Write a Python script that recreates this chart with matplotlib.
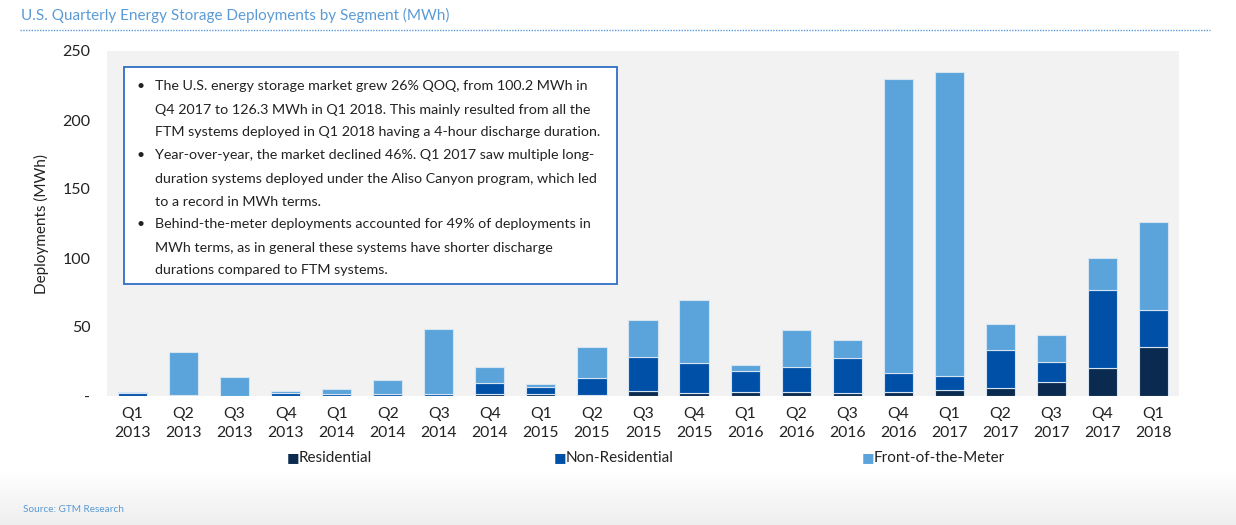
import matplotlib
matplotlib.use("Agg")
import matplotlib.pyplot as plt
import numpy as np
from matplotlib.patches import Rectangle
from matplotlib.lines import Line2D

plt.rcParams['font.family'] = ['Lato', 'DejaVu Sans']

quarters = ["Q1", "Q2", "Q3", "Q4", "Q1", "Q2", "Q3", "Q4", "Q1", "Q2", "Q3", "Q4",
            "Q1", "Q2", "Q3", "Q4", "Q1", "Q2", "Q3", "Q4", "Q1"]
years = ["2013", "2013", "2013", "2013", "2014", "2014", "2014", "2014", "2015", "2015",
         "2015", "2015", "2016", "2016", "2016", "2016", "2017", "2017", "2017", "2017", "2018"]
residential = [0.2, 0.0, 0.0, 0.3, 0.3, 0.3, 0.3, 1.4, 1.2, 1.0, 3.4, 2.0,
               2.7, 2.7, 2.2, 2.7, 4.1, 6.0, 9.9, 20.3, 35.7]
non_residential = [2.0, 0.8, 0.2, 2.0, 1.4, 1.3, 1.3, 8.3, 5.6, 11.8, 25.1, 21.9,
                   15.7, 18.5, 25.6, 14.2, 10.6, 27.6, 14.7, 56.7, 26.4]
front_of_meter = [0.5, 31.0, 13.8, 1.3, 3.4, 10.2, 47.0, 11.5, 1.9, 22.5, 26.8, 45.9,
                  4.1, 26.6, 12.8, 213.0, 220.3, 18.6, 19.4, 23.2, 64.2]
series_names = ["Residential", "Non-Residential", "Front-of-the-Meter"]
yticks = [0, 50, 100, 150, 200, 250]
ytick_labels = ["-", "50", "100", "150", "200", "250"]

colors = ["#0A2A4F", "#0050A8", "#5AA4DB"]
W, H = 1236, 525
fig = plt.figure(figsize=(W / 100, H / 100), dpi=100)

# bottom gradient background
bg = fig.add_axes([0, 0, 1, 1], zorder=-10)
grad = np.ones((H, 1))
ys = np.arange(H)
grad[:, 0] = np.where(ys > 470, 1 - (ys - 470) / (H - 470) * 0.065, 1.0)
bg.imshow(np.dstack([grad, grad, grad]), aspect='auto', extent=[0, 1, 0, 1], origin='upper')
bg.axis('off')

ax = fig.add_axes([107 / W, 1 - 396 / H, (1179 - 107) / W, (396 - 51) / H])
ax.set_facecolor("#F2F2F2")
x = np.arange(len(quarters))
bottom = np.zeros(len(x))
for vals, c, name in zip([residential, non_residential, front_of_meter], colors, series_names):
    ax.bar(x, vals, width=0.57, bottom=bottom, color=c, edgecolor="#D6E4F2", linewidth=0.8,
           label=name, zorder=3)
    bottom += np.array(vals)

ax.set_xlim(-0.5, len(x) - 0.5)
ax.set_ylim(0, 250)
ax.set_yticks(yticks)
ax.set_yticklabels(ytick_labels, fontsize=11.5, color="#222222")
ax.set_xticks(x)
ax.set_xticklabels([f"{q}\n{y}" for q, y in zip(quarters, years)], fontsize=11.3,
                   color="#222222", linespacing=1.4)
ax.tick_params(length=0, pad=8)
ax.tick_params(axis='y', pad=12)
for s in ax.spines.values():
    s.set_visible(False)
ax.set_ylabel("Deployments (MWh)", fontsize=11, color="#222222")
ax.yaxis.set_label_coords(-(107 - 49) / (1179 - 107), 0.5)

# legend
for c, name, xp in zip(colors, series_names, [287, 554, 862]):
    fig.text(xp / W, 1 - 458 / H, "\u25A0", color=c, fontsize=9.5,
             va='center', ha='left', family='DejaVu Sans')
    fig.text((xp + 12) / W, 1 - 458 / H, name, color="#222222", fontsize=11,
             va='center', ha='left')

# text box
box_x0, box_y0, box_x1, box_y1 = 124, 67, 617, 284
fig.patches.append(Rectangle((box_x0 / W, 1 - box_y1 / H), (box_x1 - box_x0) / W,
                             (box_y1 - box_y0) / H, transform=fig.transFigure,
                             facecolor="white", edgecolor="#2F6FC4", linewidth=1.3, zorder=5))
lines = [
    (True, "The U.S. energy storage market grew 26% QOQ, from 100.2 MWh in"),
    (False, "Q4 2017 to 126.3 MWh in Q1 2018. This mainly resulted from all the"),
    (False, "FTM systems deployed in Q1 2018 having a 4-hour discharge duration."),
    (True, "Year-over-year, the market declined 46%. Q1 2017 saw multiple long-"),
    (False, "duration systems deployed under the Aliso Canyon program, which led"),
    (False, "to a record in MWh terms."),
    (True, "Behind-the-meter deployments accounted for 49% of deployments in"),
    (False, "MWh terms, as in general these systems have shorter discharge"),
    (False, "durations compared to FTM systems."),
]
y0 = 86.5
for i, (bullet, t) in enumerate(lines):
    yy = 1 - (y0 + i * 23.0) / H
    if bullet:
        fig.text(136 / W, yy, "\u2022", fontsize=10, color="#222222", va='center', zorder=6)
    fig.text(155 / W, yy, t, fontsize=10.3, color="#222222", va='center', zorder=6)

# title
fig.text(21 / W, 1 - 15 / H, "U.S. Quarterly Energy Storage Deployments by Segment (MWh)",
         fontsize=11, color="#5B9BD5", va='center', ha='left')
fig.add_artist(Line2D([20 / W, 1210 / W], [1 - 30 / H, 1 - 30 / H], color="#5B9BD5",
                      linestyle=(0, (1, 1)), linewidth=1.0, transform=fig.transFigure))

fig.text(23 / W, 1 - 509 / H, "Source: GTM Research", fontsize=7.2, color="#5B9BD5",
         va='center', ha='left')

fig.savefig("out.png", dpi=100)
